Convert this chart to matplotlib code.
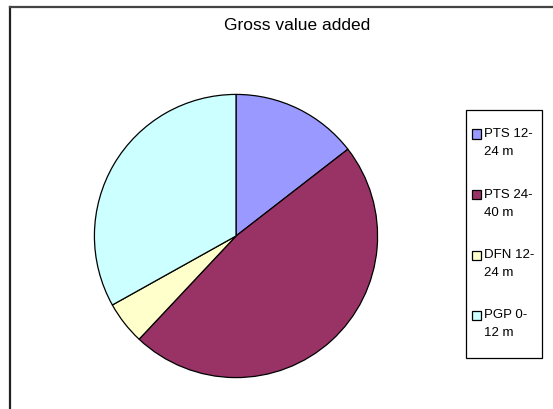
import matplotlib
matplotlib.use("Agg")
import matplotlib.pyplot as plt
from matplotlib.patches import Rectangle
from matplotlib.lines import Line2D

labels = ["PTS 12-\n24 m", "PTS 24-\n40 m", "DFN 12-\n24 m", "PGP 0-\n12 m"]
shares = [14.5, 47.5, 4.9, 33.1]
colors = ["#9999FF", "#993366", "#FFFFCC", "#CCFFFF"]

W, H = 553, 409
fig = plt.figure(figsize=(W / 100, H / 100), dpi=100)

def fx(px):
    return px / W

def fy(py):
    return 1 - py / H

# outer chart frame (only top and left edges visible)
fig.add_artist(Line2D([fx(10), fx(10)], [fy(7), fy(409)], color="#222222", lw=1.6))
fig.add_artist(Line2D([fx(10), fx(553)], [fy(7), fy(7)], color="#444444", lw=1.6))

fig.text(fx(297), fy(26), "Gross value added", ha="center", va="center",
         fontsize=12.5, family="Liberation Sans")

cx, cy, r = 236, 236, 143
ax = fig.add_axes([fx(cx - r), fy(cy + r), 2 * r / W, 2 * r / H])
ax.pie(shares, colors=colors, startangle=90, counterclock=False,
       wedgeprops=dict(edgecolor="black", linewidth=0.9))
ax.set_xlim(-1.01, 1.01)
ax.set_ylim(-1.01, 1.01)
ax.set_aspect("equal")
ax.axis("off")

# legend box
fig.add_artist(Rectangle((fx(466), fy(358)), fx(542) - fx(466), fy(110) - fy(358),
                         transform=fig.transFigure, facecolor="white",
                         edgecolor="black", lw=0.9))
for i, (lab, col) in enumerate(zip(labels, colors)):
    yc = 134 + i * 60.5
    fig.add_artist(Rectangle((fx(472), fy(yc + 4.5)), 9 / W, 9 / H,
                             transform=fig.transFigure, facecolor=col,
                             edgecolor="black", lw=0.9))
    first, second = lab.split("\n")
    fig.text(fx(484), fy(yc), first, ha="left", va="center", fontsize=9.5,
             family="Liberation Sans")
    fig.text(fx(484), fy(yc + 18), second, ha="left", va="center", fontsize=9.5,
             family="Liberation Sans")

fig.savefig("out.png", dpi=100)
